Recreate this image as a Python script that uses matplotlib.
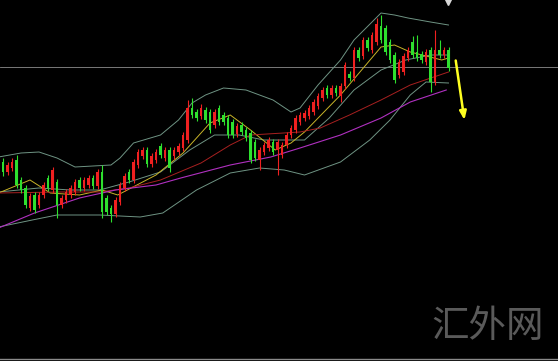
import numpy as np
import matplotlib
matplotlib.use("Agg")
import matplotlib.pyplot as plt

# ── candles (open, high, low, close) ──────────────────────────────────────────
OPEN = [138, 128, 132, 140, 120, 112, 92, 105, 95, 105, 122, 110, 118, 95, 100, 105, 108, 120, 112, 115,
        122, 114, 128, 102, 92, 86, 98, 112, 128, 120, 135, 144, 150, 136, 140, 154, 142, 150, 144, 148,
        152, 160, 192, 188, 184, 190, 188, 175, 192, 185, 182, 178, 166, 175, 170, 167, 158, 140, 148, 152,
        158, 150, 145, 155, 165, 170, 178, 182, 184, 188, 194, 202, 212, 205, 212, 204, 214, 226, 222, 250,
        244, 260, 250, 258, 274, 272, 258, 245, 225, 228, 242, 258, 248, 246, 238, 250, 218, 250, 245, 250]
CLOSE = [128, 135, 138, 115, 110, 95, 104, 90, 105, 115, 112, 130, 95, 102, 108, 112, 118, 112, 120, 122,
         114, 128, 88, 88, 86, 100, 115, 124, 120, 138, 148, 150, 136, 144, 148, 145, 150, 132, 150, 154,
         165, 192, 185, 182, 192, 180, 170, 188, 178, 178, 165, 165, 174, 168, 162, 140, 142, 150, 155, 160,
         148, 158, 155, 165, 172, 182, 185, 187, 192, 198, 204, 210, 205, 212, 207, 214, 235, 222, 250, 242,
         260, 252, 265, 276, 260, 248, 240, 220, 238, 244, 250, 245, 242, 240, 248, 218, 250, 245, 250, 232]
HIGH = [142, 138, 142, 145, 123, 115, 107, 108, 108, 118, 125, 133, 121, 105, 111, 115, 121, 123, 123, 125,
        125, 131, 135, 105, 95, 103, 118, 127, 131, 141, 151, 153, 153, 147, 151, 157, 153, 153, 153, 157,
        168, 200, 202, 191, 196, 193, 191, 191, 195, 188, 185, 181, 177, 178, 173, 170, 161, 153, 158, 163,
        161, 161, 158, 168, 175, 185, 188, 190, 195, 201, 207, 213, 215, 215, 215, 217, 238, 229, 253, 253,
        263, 263, 268, 282, 285, 275, 261, 248, 241, 247, 253, 264, 265, 249, 251, 253, 270, 260, 253, 253]
LOW = [124, 125, 129, 112, 107, 92, 89, 87, 92, 102, 109, 107, 82, 92, 97, 102, 105, 109, 109, 112,
       111, 111, 82, 85, 78, 83, 95, 109, 117, 117, 132, 141, 133, 133, 137, 142, 139, 128, 141, 145,
       149, 157, 182, 179, 181, 177, 167, 172, 175, 175, 162, 162, 163, 165, 159, 137, 139, 130, 145, 149,
       145, 125, 142, 152, 162, 167, 175, 179, 181, 185, 191, 199, 202, 202, 204, 198, 211, 219, 219, 239,
       241, 249, 247, 255, 257, 245, 237, 217, 222, 225, 239, 242, 239, 237, 235, 208, 215, 242, 242, 229]

# ── indicator lines (candle index, price) ─────────────────────────────────────
BB_UP_X = [-1, 4, 8, 12, 16, 20, 24, 26, 29, 35, 39, 42, 45, 49, 54, 57, 60, 64, 66, 70, 75, 78, 82, 84, 87, 90, 95, 99]
BB_UP_Y = [143, 147, 148, 142, 133, 134, 135, 142, 157, 165, 180, 197, 205, 212, 210, 205, 200, 188, 192, 215, 240, 260, 278, 287, 285, 282, 278, 275]
BB_MID_X = [-1, 8, 15, 21.5, 28, 35, 41.5, 47, 52.5, 58, 62.5, 67, 72.5, 78, 84, 89.5, 95, 99]
BB_MID_Y = [108, 112, 110, 110, 118, 128, 150, 165, 165, 160, 160, 160, 182, 210, 230, 240, 245, 245]
BB_LO_X = [-1, 6.5, 12, 21.5, 30.5, 35.5, 43, 50.5, 57, 62.5, 67, 75, 81.5, 86, 90.5, 94, 99]
BB_LO_Y = [73, 80, 85, 85, 83, 87, 110, 127, 132, 130, 125, 138, 160, 180, 205, 218, 217]
MA_Y_X = [-1, 6, 10.5, 17, 22, 25.5, 34, 40, 46, 50.5, 55, 60.5, 64, 67, 75, 84, 87, 90.5, 97.5, 99]
MA_Y_Y = [107, 120, 107, 105, 110, 105, 125, 147, 177, 185, 170, 150, 157, 168, 205, 253, 255, 248, 240, 242]
MA_R_X = [-1, 12.5, 21.5, 28, 35, 44, 50.5, 55, 66, 70.5, 77, 84, 90.5, 99]
MA_R_Y = [107, 108, 108, 112, 120, 137, 155, 165, 168, 172, 185, 200, 215, 228]
MA_P_X = [-1, 7, 17, 25, 34, 39.5, 50.5, 59.5, 66, 75, 84, 90.5, 98.5]
MA_P_Y = [72, 87, 102, 110, 115, 122, 135, 143, 152, 165, 182, 198, 210]
H_LEVEL = 233

UP_C, DN_C = "#f02020", "#2ee02e"

fig = plt.figure(figsize=(5.58, 3.61), dpi=100, facecolor="black")
ax = fig.add_axes([0, 0, 1, 1], facecolor="black")

o, c = np.array(OPEN), np.array(CLOSE)
idx = np.arange(len(o))
cols = np.where(c >= o, UP_C, DN_C)
ax.vlines(idx, LOW, HIGH, colors=cols, lw=0.8, zorder=3)
ax.bar(idx, np.maximum(np.abs(c - o), 1.0), bottom=np.minimum(o, c),
       width=0.62, color=cols, lw=0, zorder=4)

band_c = "#6f9484"
ax.plot(BB_UP_X, BB_UP_Y, color=band_c, lw=0.7, zorder=2)
ax.plot(BB_MID_X, BB_MID_Y, color=band_c, lw=0.7, zorder=2)
ax.plot(BB_LO_X, BB_LO_Y, color=band_c, lw=0.7, zorder=2)
ax.plot(MA_Y_X, MA_Y_Y, color="#c8b428", lw=0.7, zorder=2)
ax.plot(MA_R_X, MA_R_Y, color="#a82020", lw=0.7, zorder=2)
ax.plot(MA_P_X, MA_P_Y, color="#b030c0", lw=0.8, zorder=2)
ax.axhline(H_LEVEL, color="#8c8c8c", lw=0.6, zorder=1)

# yellow arrow
ax.annotate("", xy=(0.833, 0.66), xytext=(0.816, 0.84),
            xycoords="axes fraction",
            arrowprops=dict(arrowstyle="-|>,head_length=0.5,head_width=0.2",
                            color="#ffff20", lw=1.8))

# small marker at the top edge and the screenshot frame at the bottom
ax.plot([0.803], [0.995], marker="v", ms=4, color="#d8d8d8",
        transform=ax.transAxes, clip_on=False)
ax.axhline(-58.5, color="#8a8a8a", lw=1.0)

ax.text(0.873, 0.095, "汇外网", transform=ax.transAxes, ha="center", va="center",
        fontsize=27, color="#5a5a5a", family=["Noto Sans CJK SC", "DejaVu Sans"])

ax.set_xlim(-0.667, 123.33)
ax.set_ylim(-61, 300)
ax.axis("off")

fig.savefig("out.png", dpi=100, facecolor="black")
